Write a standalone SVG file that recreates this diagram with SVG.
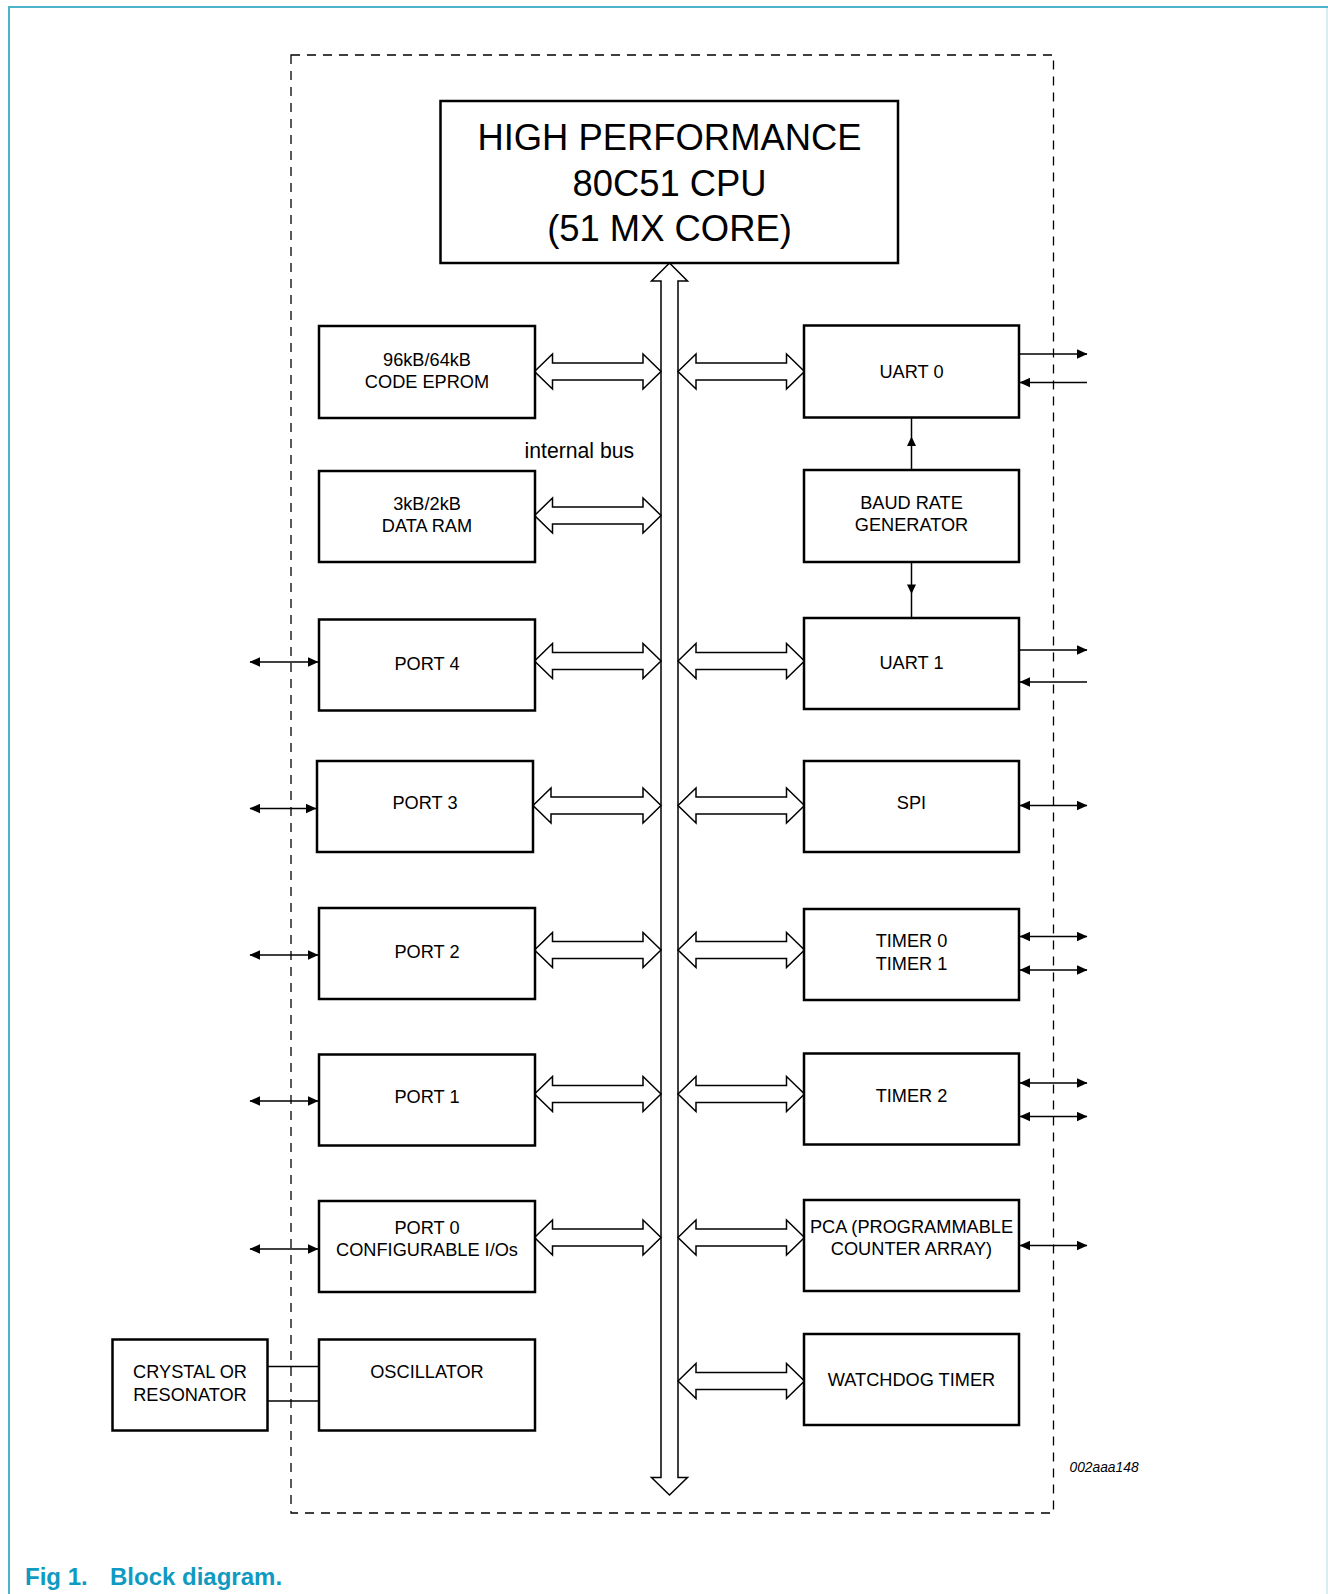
<svg xmlns="http://www.w3.org/2000/svg" xmlns:xlink="http://www.w3.org/1999/xlink" width="1328" height="1594" viewBox="0 0 1328 1594">
<style>
.box{fill:#fff;stroke:#000;stroke-width:2.5}
.t{font-family:"Liberation Sans",Arial,sans-serif;font-size:18.2px;fill:#000;text-anchor:middle}
.dbl{fill:#fff;stroke:#000;stroke-width:1.5;stroke-linejoin:miter}
.ln{stroke:#000;stroke-width:1.5;fill:none}
.cap{font-family:"Liberation Sans",Arial,sans-serif;font-size:24px;font-weight:bold;fill:#0F9AC2}
</style>
<defs>
<path id="da" d="M0,0 L18,-17.5 L18,-8.5 L108.5,-8.5 L108.5,-17.5 L126.5,0 L108.5,17.5 L108.5,8.5 L18,8.5 L18,17.5 Z"/>
<marker id="ah" markerUnits="userSpaceOnUse" markerWidth="12" markerHeight="10" refX="10" refY="5" orient="auto-start-reverse" viewBox="0 0 12 10">
<path d="M0,0.3 L10.5,5 L0,9.7 Z" fill="#000"/>
</marker>
</defs>
<g id="frame">
<path d="M9,1594 V7 H1328" fill="none" stroke="#4DB3CA" stroke-width="2"/>
<line x1="1327" y1="8" x2="1327" y2="1594" stroke="#CDE8EE" stroke-width="1.5"/>
<rect x="291" y="55" width="762.5" height="1458" fill="none" stroke="#000" stroke-width="1.3" stroke-dasharray="9 7"/>
</g>
<g id="connectors">
<path class="dbl" d="M669.5,263 L687.5,281 L678,281 L678,1477.5 L687.5,1477.5 L669.5,1495 L651.5,1477.5 L661,1477.5 L661,281 L651.5,281 Z"/>
<use xlink:href="#da" class="dbl" transform="translate(534.5,371.5)"/>
<use xlink:href="#da" class="dbl" transform="translate(534.5,515.5)"/>
<use xlink:href="#da" class="dbl" transform="translate(534.5,661)"/>
<path class="dbl" d="M533,805.5 L551,788 L551,797 L643,797 L643,788 L661,805.5 L643,823 L643,814 L551,814 L551,823 Z"/>
<use xlink:href="#da" class="dbl" transform="translate(534.5,950)"/>
<use xlink:href="#da" class="dbl" transform="translate(534.5,1094)"/>
<use xlink:href="#da" class="dbl" transform="translate(534.5,1237.5)"/>
<use xlink:href="#da" class="dbl" transform="translate(678,371.5)"/>
<use xlink:href="#da" class="dbl" transform="translate(678,661)"/>
<use xlink:href="#da" class="dbl" transform="translate(678,805.5)"/>
<use xlink:href="#da" class="dbl" transform="translate(678,950)"/>
<use xlink:href="#da" class="dbl" transform="translate(678,1094)"/>
<use xlink:href="#da" class="dbl" transform="translate(678,1237.5)"/>
<use xlink:href="#da" class="dbl" transform="translate(678,1381)"/>
<line class="ln" x1="250" y1="662" x2="318" y2="662" marker-start="url(#ah)" marker-end="url(#ah)"/>
<line class="ln" x1="250" y1="808.5" x2="316" y2="808.5" marker-start="url(#ah)" marker-end="url(#ah)"/>
<line class="ln" x1="250" y1="955" x2="318" y2="955" marker-start="url(#ah)" marker-end="url(#ah)"/>
<line class="ln" x1="250" y1="1101" x2="318" y2="1101" marker-start="url(#ah)" marker-end="url(#ah)"/>
<line class="ln" x1="250" y1="1249" x2="318" y2="1249" marker-start="url(#ah)" marker-end="url(#ah)"/>
<line class="ln" x1="1020" y1="354" x2="1087" y2="354" marker-end="url(#ah)"/>
<line class="ln" x1="1087" y1="382.5" x2="1020" y2="382.5" marker-end="url(#ah)"/>
<line class="ln" x1="1020" y1="650" x2="1087" y2="650" marker-end="url(#ah)"/>
<line class="ln" x1="1087" y1="682" x2="1020" y2="682" marker-end="url(#ah)"/>
<line class="ln" x1="1020" y1="805.5" x2="1087" y2="805.5" marker-start="url(#ah)" marker-end="url(#ah)"/>
<line class="ln" x1="1020" y1="936.5" x2="1087" y2="936.5" marker-start="url(#ah)" marker-end="url(#ah)"/>
<line class="ln" x1="1020" y1="970" x2="1087" y2="970" marker-start="url(#ah)" marker-end="url(#ah)"/>
<line class="ln" x1="1020" y1="1083" x2="1087" y2="1083" marker-start="url(#ah)" marker-end="url(#ah)"/>
<line class="ln" x1="1020" y1="1116.5" x2="1087" y2="1116.5" marker-start="url(#ah)" marker-end="url(#ah)"/>
<line class="ln" x1="1020" y1="1245.5" x2="1087" y2="1245.5" marker-start="url(#ah)" marker-end="url(#ah)"/>
<line class="ln" x1="911.5" y1="470" x2="911.5" y2="417.5"/>
<path d="M911.5,436.5 L907,446 L916,446 Z" fill="#000"/>
<line class="ln" x1="911.5" y1="562" x2="911.5" y2="618"/>
<path d="M911.5,594 L907,584.5 L916,584.5 Z" fill="#000"/>
<line class="ln" x1="267.5" y1="1366.5" x2="319" y2="1366.5"/>
<line class="ln" x1="267.5" y1="1401" x2="319" y2="1401"/>
</g>
<g id="cpu">
<rect class="box" x="440.5" y="101" width="457.5" height="162" stroke-width="3"/>
<text class="t" x="669.5" y="150" style="font-size:36.4px">HIGH PERFORMANCE</text>
<text class="t" x="669.5" y="195.5" style="font-size:36.4px">80C51 CPU</text>
<text class="t" x="669.5" y="240.5" style="font-size:36.4px">(51 MX CORE)</text>
</g>
<g id="eprom"><rect class="box" x="319" y="326" width="216" height="92"/>
<text class="t" x="427" y="365.5">96kB/64kB</text><text class="t" x="427" y="388">CODE EPROM</text></g>
<g id="ram"><rect class="box" x="319" y="471" width="216" height="91"/>
<text class="t" x="427" y="510">3kB/2kB</text><text class="t" x="427" y="532">DATA RAM</text></g>
<g id="port4"><rect class="box" x="319" y="619.5" width="216" height="91"/>
<text class="t" x="427" y="669.5">PORT 4</text></g>
<g id="port3"><rect class="box" x="317" y="761" width="216" height="91"/>
<text class="t" x="425" y="809">PORT 3</text></g>
<g id="port2"><rect class="box" x="319" y="908" width="216" height="91"/>
<text class="t" x="427" y="958">PORT 2</text></g>
<g id="port1"><rect class="box" x="319" y="1054.5" width="216" height="91"/>
<text class="t" x="427" y="1102.5">PORT 1</text></g>
<g id="port0"><rect class="box" x="319" y="1201" width="216" height="91"/>
<text class="t" x="427" y="1234">PORT 0</text><text class="t" x="427" y="1256">CONFIGURABLE I/Os</text></g>
<g id="oscillator"><rect class="box" x="319" y="1339.5" width="216" height="91"/>
<text class="t" x="427" y="1378">OSCILLATOR</text></g>
<g id="crystal"><rect class="box" x="112.5" y="1339.5" width="155" height="91"/>
<text class="t" x="190" y="1378">CRYSTAL OR</text><text class="t" x="190" y="1400.5">RESONATOR</text></g>
<g id="uart0"><rect class="box" x="804" y="325.5" width="215" height="92"/>
<text class="t" x="911.5" y="377.5">UART 0</text></g>
<g id="baud"><rect class="box" x="804" y="470" width="215" height="92"/>
<text class="t" x="911.5" y="509">BAUD RATE</text><text class="t" x="911.5" y="531">GENERATOR</text></g>
<g id="uart1"><rect class="box" x="804" y="618" width="215" height="91"/>
<text class="t" x="911.5" y="668.5">UART 1</text></g>
<g id="spi"><rect class="box" x="804" y="761" width="215" height="91"/>
<text class="t" x="911.5" y="809">SPI</text></g>
<g id="timer01"><rect class="box" x="804" y="909" width="215" height="91"/>
<text class="t" x="911.5" y="947">TIMER 0</text><text class="t" x="911.5" y="969.5">TIMER 1</text></g>
<g id="timer2"><rect class="box" x="804" y="1053.5" width="215" height="91"/>
<text class="t" x="911.5" y="1101.5">TIMER 2</text></g>
<g id="pca"><rect class="box" x="804" y="1200" width="215" height="91"/>
<text class="t" x="911.5" y="1233">PCA (PROGRAMMABLE</text><text class="t" x="911.5" y="1255">COUNTER ARRAY)</text></g>
<g id="watchdog"><rect class="box" x="804" y="1334" width="215" height="91"/>
<text class="t" x="911.5" y="1385.5">WATCHDOG TIMER</text></g>
<g id="labels">
<text x="524.5" y="457.5" style="font-family:'Liberation Sans',Arial,sans-serif;font-size:21.2px">internal bus</text>
<text x="1069.5" y="1472" style="font-family:'Liberation Sans',Arial,sans-serif;font-size:13.8px;font-style:italic">002aaa148</text>
<text class="cap" x="25" y="1585">Fig 1.</text>
<text class="cap" x="110" y="1585">Block diagram.</text>
</g>
</svg>
